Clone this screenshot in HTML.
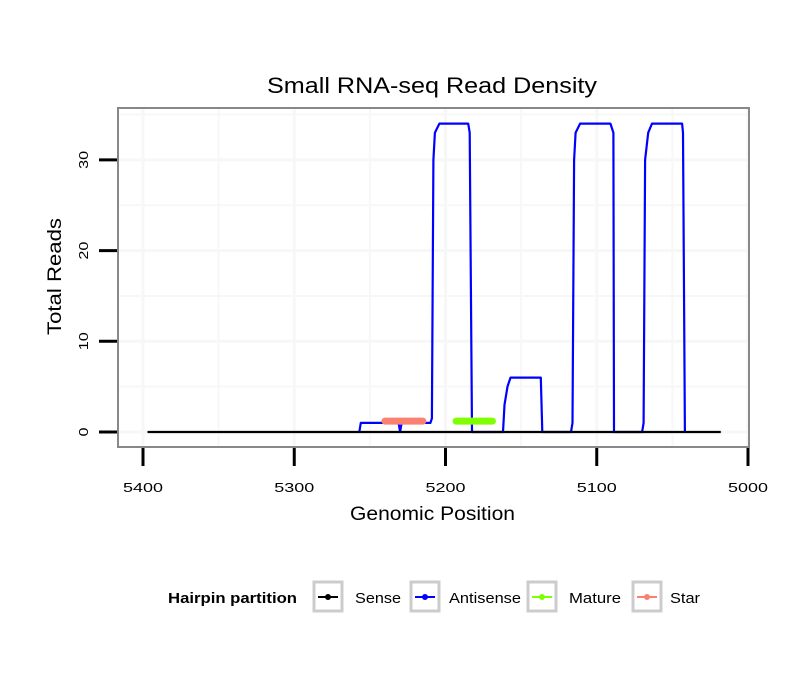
<!DOCTYPE html>
<html><head><meta charset="utf-8"><style>body{margin:0;background:#fff}svg{display:block;font-family:"Liberation Sans",sans-serif}</style></head>
<body>
<svg id="chart" width="810" height="690" viewBox="0 0 810 690" xmlns="http://www.w3.org/2000/svg">
<rect width="810" height="690" fill="#fff"/>
<text x="267" y="93" font-size="22" textLength="330" lengthAdjust="spacingAndGlyphs">Small RNA-seq Read Density</text>
<g id="grid"></g>
<g id="marks"></g>
<rect x="118" y="108" width="631" height="339" fill="none" stroke="#888" stroke-width="2"/>
<g id="axes"></g>
<text x="350" y="520" font-size="19" textLength="165" lengthAdjust="spacingAndGlyphs">Genomic Position</text>
<text transform="translate(61,335) rotate(-90)" font-size="19" textLength="117" lengthAdjust="spacingAndGlyphs">Total Reads</text>
<g>
<text x="168" y="603" font-size="15" font-weight="bold" textLength="129" lengthAdjust="spacingAndGlyphs">Hairpin partition</text>
<g><rect x="314" y="582" width="28" height="29" fill="#fff" stroke="#ccc" stroke-width="3"/><line x1="318" y1="597" x2="338" y2="597" stroke="#000" stroke-width="2"/><circle cx="328" cy="597" r="3" fill="#000"/><text x="355" y="603" font-size="15" textLength="46" lengthAdjust="spacingAndGlyphs">Sense</text></g>
<g><rect x="411" y="582" width="28" height="29" fill="#fff" stroke="#ccc" stroke-width="3"/><line x1="415" y1="597" x2="435" y2="597" stroke="#00f" stroke-width="2"/><circle cx="425" cy="597" r="3" fill="#00f"/><text x="449" y="603" font-size="15" textLength="72" lengthAdjust="spacingAndGlyphs">Antisense</text></g>
<g><rect x="528" y="582" width="28" height="29" fill="#fff" stroke="#ccc" stroke-width="3"/><line x1="532" y1="597" x2="552" y2="597" stroke="#7fff00" stroke-width="2"/><circle cx="542" cy="597" r="3" fill="#7fff00"/><text x="569" y="603" font-size="15" textLength="52" lengthAdjust="spacingAndGlyphs">Mature</text></g>
<g><rect x="633" y="582" width="28" height="29" fill="#fff" stroke="#ccc" stroke-width="3"/><line x1="637" y1="597" x2="657" y2="597" stroke="#fa8072" stroke-width="2"/><circle cx="647" cy="597" r="3" fill="#fa8072"/><text x="670" y="603" font-size="15" textLength="30" lengthAdjust="spacingAndGlyphs">Star</text></g>
</g>
</svg>
<script>
const xTicks = [5400, 5300, 5200, 5100, 5000];
const xMinor = [5350, 5250, 5150, 5050];
const yTicks = [0, 10, 20, 30];
const yMinor = [5, 15, 25, 35];
const senseX = [5397, 5018];
const senseY = [0, 0];
const antiX = [5257, 5256, 5231, 5230, 5229, 5210, 5209, 5208, 5207, 5204, 5185, 5184, 5182.5, 5162, 5161, 5159, 5157, 5137, 5136, 5117, 5116, 5115, 5114, 5111, 5091, 5089, 5088.6, 5070, 5069, 5068, 5066, 5063.5, 5043.6, 5043, 5041.7];
const antiY = [0, 1, 1, 0, 1, 1, 1.5, 30, 33, 34, 34, 33, 0, 0, 3, 5, 6, 6, 0, 0, 1, 30, 33, 34, 34, 33, 0, 0, 1, 30, 33, 34, 34, 33, 0];
const matureX = [5193, 5169];
const matureY = [1.2, 1.2];
const starX = [5240, 5215];
const starY = [1.2, 1.2];

const NS = "http://www.w3.org/2000/svg";
const xs = v => 143 + (5400 - v) * 1.5125;
const ys = v => 432 - v * 9.07;
function mk(tag, attrs, parent) {
  const e = document.createElementNS(NS, tag);
  for (const k in attrs) e.setAttribute(k, attrs[k]);
  parent.appendChild(e);
  return e;
}
const grid = document.getElementById('grid'), marks = document.getElementById('marks'), axes = document.getElementById('axes');
[...xTicks, ...xMinor].forEach(v => {
  const l = mk('line', {x1: xs(v), x2: xs(v), y1: 109, y2: 446, stroke: '#f7f7f7', 'stroke-width': xTicks.includes(v) ? 3 : 2}, grid);
  
  
});
[...yTicks, ...yMinor].forEach(v => {
  const l = mk('line', {x1: 119, x2: 748, y1: ys(v), y2: ys(v), stroke: '#f7f7f7', 'stroke-width': yTicks.includes(v) ? 3 : 2}, grid);
  
  
});
xTicks.forEach(v => {
  const t = mk('line', {x1: xs(v), x2: xs(v), y1: 448, y2: 466, stroke: '#000', 'stroke-width': 3}, axes);
  
  
  const tx = mk('text', {x: xs(v) - 20, y: 492, 'font-size': 13, textLength: 40, lengthAdjust: 'spacingAndGlyphs'}, axes);
  tx.textContent = v;
  
  
});
yTicks.forEach(v => {
  const t = mk('line', {x1: 99, x2: 117, y1: ys(v), y2: ys(v), stroke: '#000', 'stroke-width': 3}, axes);
  
  
  const len = String(v).length * 9;
  const tx = mk('text', {transform: `translate(88,${ys(v) + len / 2}) rotate(-90)`, 'font-size': 13, textLength: len, lengthAdjust: 'spacingAndGlyphs'}, axes);
  tx.textContent = v;
  
  
});
function series(X, Y, color, w, name, cap) {
  const d = X.map((x, i) => (i ? 'L' : 'M') + xs(x).toFixed(1) + ',' + ys(Y[i]).toFixed(1)).join(' ');
  const p = mk('path', {d, fill: 'none', stroke: color, 'stroke-width': w, 'stroke-linecap': cap, 'stroke-linejoin': 'round'}, marks);
  
  
}
series(antiX, antiY, '#00f', 2.2, 'antisense-line', 'butt');
series(senseX, senseY, '#000', 2.2, 'sense-line', 'butt');
series(starX, starY, '#fa8072', 7, 'star-line', 'round');
series(matureX, matureY, '#7fff00', 7, 'mature-line', 'round');
</script>
</body></html>
